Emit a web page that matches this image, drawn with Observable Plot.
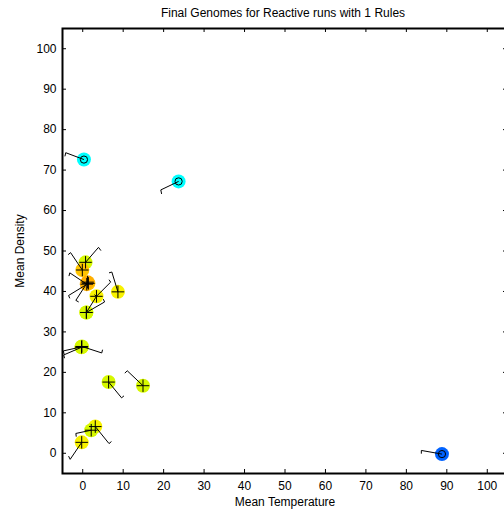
<!DOCTYPE html>
<html>
<head>
<meta charset="utf-8">
<script src="https://cdn.jsdelivr.net/npm/d3@7"></script>
<script src="https://cdn.jsdelivr.net/npm/@observablehq/plot@0.6"></script>
<style>
  html, body { margin: 0; padding: 0; background: #fff; }
  #chart svg { display: block; }
</style>
</head>
<body>
<div id="chart"></div>
<script>
// ---- Data ----
const titleText = "Final Genomes for Reactive runs with 1 Rules";
const xLabel = "Mean Temperature";
const yLabel = "Mean Density";

const xTicks = [0, 10, 20, 30, 40, 50, 60, 70, 80, 90, 100];
const yTicks = [0, 10, 20, 30, 40, 50, 60, 70, 80, 90, 100];

// genome positions
const genomeX = [0.3, 23.7, 88.8, 0.7, -0.1, 1.0, 1.4, 1.2, 3.4, 0.9, 0.9, 8.7, -0.3, -0.2, -0.3, 6.4, 14.9, 3.1, 2.1, -0.25];
const genomeY = [72.6, 67.2, -0.2, 47.2, 45.3, 41.8, 42.0, 42.3, 38.8, 34.8, 34.8, 39.9, 26.3, 26.4, 26.2, 17.6, 16.7, 6.6, 5.7, 2.7];
// direction-stroke end points
const endX = [-4.2, 19.3, 83.7, 3.9, -3.0, -3.2, -3.5, -1.7, 6.9, 5.4, 3.4, 7.2, -4.8, 4.7, -4.7, 9.6, 11.0, 6.5, -1.7, -3.1];
const endY = [74.3, 65.1, 0.7, 50.9, 49.6, 44.6, 39.0, 37.8, 42.3, 37.4, 38.8, 44.8, 25.3, 24.8, 24.3, 13.7, 20.4, 2.4, 4.9, -1.5];
// hook end points
const hookX = [-4.4, 19.5, 83.7, 4.5, -3.6, -3.4, -3.2, -1.0, 6.5, 5.1, 2.9, 6.5, -4.6, 4.9, -4.5, 10.2, 10.4, 7.1, -1.6, -3.5];
const hookY = [73.4, 64.1, -0.1, 50.1, 49.1, 43.8, 38.3, 37.4, 42.9, 38.1, 39.2, 44.6, 24.5, 25.6, 23.5, 14.2, 19.8, 2.9, 4.1, -0.7];
// colour group and marker of each genome
const genomeGroup = ["cyan", "cyan", "blue", "yellowgreen", "orange", "darkorange", "orange", "darkorange", "yellow", "yellowgreen", "yellowgreen", "yellow", "yellowgreen", "yellowgreen", "yellowgreen", "yellowgreen", "yellowgreen", "yellow", "yellowgreen", "yellow"];
const genomeMarker = ["o", "o", "o", "+", "+", "+", "+", "+", "+", "+", "+", "+", "+", "+", "+", "+", "+", "+", "+", "+"];

const groupNames = ["cyan", "blue", "yellowgreen", "yellow", "orange", "darkorange"];
const groupColors = ["#00ffff", "#0062ff", "#d6f800", "#f8f200", "#ffc400", "#ffae00"];

// ---- Build table ----
const rows = genomeX.map((x, i) => ({
  x, y: genomeY[i], ex: endX[i], ey: endY[i], hx: hookX[i], hy: hookY[i],
  group: genomeGroup[i], marker: genomeMarker[i]
}));

const font = "'Liberation Sans', Arial, Helvetica, sans-serif";

const chart = Plot.plot({
  width: 504,
  height: 512,
  marginLeft: 62,
  marginRight: -3,
  marginTop: 28,
  marginBottom: 39,
  style: { fontFamily: font, fontSize: "12px", background: "white", color: "black", overflow: "visible" },
  x: { domain: [-5, 105], range: [62, 507] },
  y: { domain: [-5, 105], range: [473, 28] },
  color: { domain: groupNames, range: groupColors },
  marks: [
    Plot.dot(rows, { x: "x", y: "y", r: 7, fill: "group", stroke: null }),
    Plot.link(rows, { x1: "x", y1: "y", x2: "ex", y2: "ey", stroke: "black", strokeWidth: 1 }),
    Plot.link(rows, { x1: "ex", y1: "ey", x2: "hx", y2: "hy", stroke: "black", strokeWidth: 1 }),
    Plot.dot(rows.filter(d => d.marker === "o"), { x: "x", y: "y", r: 3.6, stroke: "black", fill: "none", strokeWidth: 1 }),
    Plot.dot(rows.filter(d => d.marker === "+"), { x: "x", y: "y", r: 4.1, symbol: "plus", stroke: "black", strokeWidth: 1 }),
    // inward ticks on all four sides
    Plot.ruleX(xTicks, { x: d => d, insetTop: 441, stroke: "black" }),
    Plot.ruleX(xTicks, { x: d => d, insetBottom: 441, stroke: "black" }),
    Plot.ruleY(yTicks, { y: d => d, insetRight: 441, stroke: "black" }),
    Plot.ruleY(yTicks, { y: d => d, insetLeft: 441, stroke: "black" }),
    Plot.frame({ stroke: "black", strokeWidth: 2 }),
    Plot.axisX(xTicks, { tickSize: 0, tickPadding: 8, label: null, fontSize: 12 }),
    Plot.axisY(yTicks, { tickSize: 0, tickPadding: 6, label: null, fontSize: 12 }),
    Plot.text([titleText], { frameAnchor: "top", dy: -15, dx: -2, fontSize: 12, lineAnchor: "middle", textAnchor: "middle" }),
    Plot.text([yLabel], { frameAnchor: "left", dx: -42, rotate: -90, fontSize: 12, lineAnchor: "middle", textAnchor: "middle" }),
    Plot.text([xLabel], { frameAnchor: "bottom", dy: 29, fontSize: 12, lineAnchor: "middle", textAnchor: "middle" })
  ]
});

document.getElementById("chart").appendChild(chart);
</script>
</body>
</html>
